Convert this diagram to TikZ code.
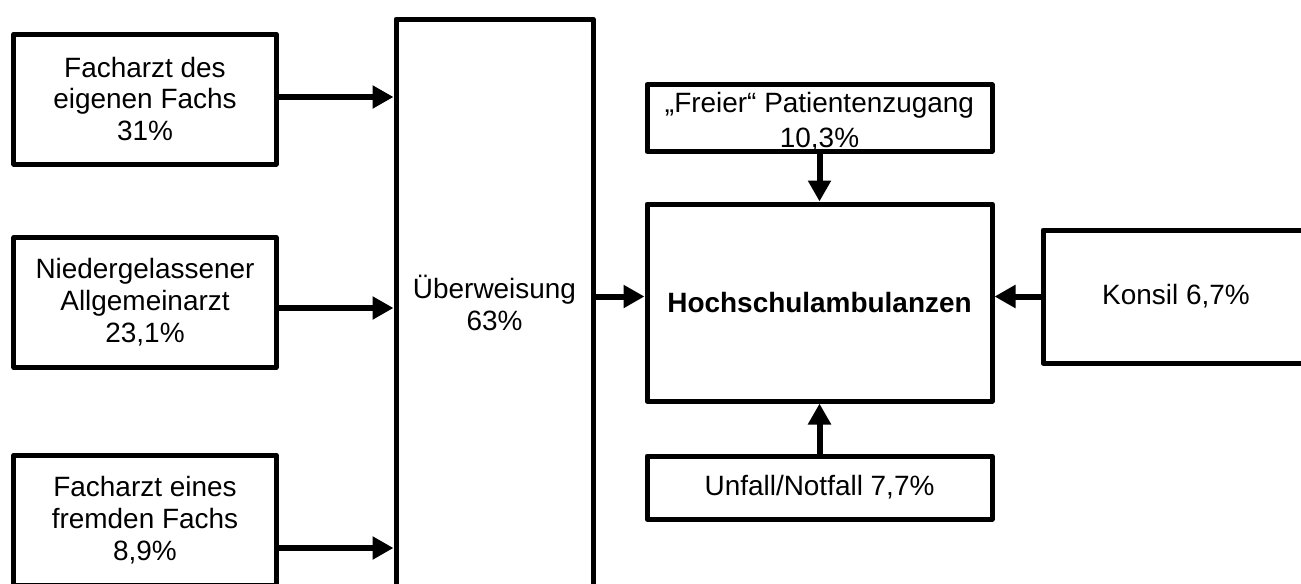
\documentclass[tikz,border=0pt]{standalone}
\usepackage{fontspec}
\setmainfont{Liberation Sans}
\usetikzlibrary{arrows.meta}
\tikzset{
    block/.style = {draw, rectangle, line width=0.1cm, line join=round,
        inner sep=0pt, align=center,
        font=\fontsize{15.9}{18.2}\selectfont},
    link/.style = {draw, line width=0.12cm,
        -{Triangle[length=0.42cm,width=0.44cm]}}
}

\begin{document}
\begin{tikzpicture}[node distance=2cm]
        \useasboundingbox (0,0) rectangle (26.02,-11.66);
        \node [block, minimum width=5.24cm, minimum height=2.6cm] at (2.9,-1.98) (fa1) {Facharzt des\\eigenen Fachs\\31\%};
        \node [block, minimum width=5.24cm, minimum height=2.6cm, below of=fa1, node distance=4.07cm] (na) {Niedergelassener\\Allgemeinarzt\\23,1\%};
        \node [block, minimum width=5.24cm, minimum height=2.6cm, below of=na, node distance=4.35cm] (fa2) {Facharzt eines\\fremden Fachs\\8,9\%};
        \node [block, minimum width=3.94cm, minimum height=11.34cm, right of=na, node distance=6.99cm] (ueb) {Überweisung\\63\%};
        \node [block, minimum width=6.9cm, minimum height=3.94cm, right of=ueb, node distance=6.5cm] (hoch) {\textbf{Hochschulambulanzen}};
        \node [block, minimum width=6.9cm, minimum height=1.32cm, above of=hoch, node distance=3.69cm] (freier) {\rule{0pt}{0.56cm}„Freier“ Patientenzugang\\[0.06cm]10,3\%};
        \node [block, minimum width=6.9cm, minimum height=1.26cm, below of=hoch, node distance=3.7cm] (unfall) {Unfall/Notfall 7,7\%};
        \node [block, minimum width=5.32cm, minimum height=2.66cm, right of=hoch, node distance=7.13cm, yshift=0.12cm] (konsil) {Konsil 6,7\%};
        % zur Ueberweisung
        \draw [link] ([yshift=0.04cm]fa1.east) -- ([yshift=0.04cm]fa1.east -| ueb.west);
        \draw [link] ([yshift=-0.11cm]na.east) -- ([yshift=-0.11cm]na.east -| ueb.west);
        \draw [link] ([yshift=-0.56cm]fa2.east) -- ([yshift=-0.56cm]fa2.east -| ueb.west);
        % zur Ambulanz
        \draw [link] (ueb.east |- konsil.west) -- (hoch.west |- konsil.west);
        \draw [link] (freier) -- (hoch);
        \draw [link] (unfall) -- (hoch);
        \draw [link] (konsil.west) -- (konsil.west -| hoch.east);
\end{tikzpicture}
\end{document}
